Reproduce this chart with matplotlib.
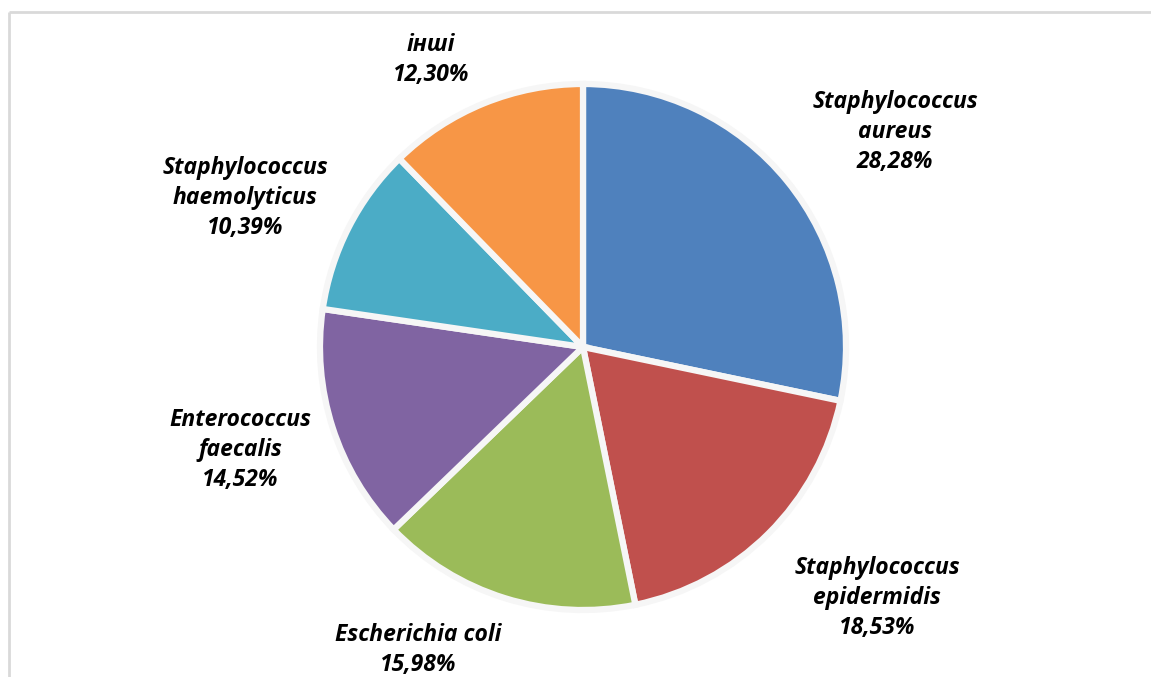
import numpy as np
import matplotlib
matplotlib.use("Agg")
import matplotlib.pyplot as plt

# Data
species = ['Staphylococcus\naureus', 'Staphylococcus\nepidermidis', 'Escherichia coli',
           'Enterococcus\nfaecalis', 'Staphylococcus\nhaemolyticus', 'інші']
shares = [28.28, 18.53, 15.98, 14.52, 10.39, 12.30]
colors = ['#4F81BD', '#C0504D', '#9BBB59', '#8064A2', '#4BACC6', '#F79646']

# label positions in pixels (x from left, y from top)
label_pos = [(895, 132), (877, 598), (418, 650), (240, 450), (245, 198), (431, 60)]

W, H = 1151, 677
fig = plt.figure(figsize=(W / 100, H / 100), dpi=100)
ax = fig.add_axes([0, 0, 1, 1])

# chart area border (top + left visible)
ax.plot([9, W], [H - 12, H - 12], color='#d9d9d9', lw=2, solid_capstyle='butt')
ax.plot([9, 9], [0, H - 12], color='#d9d9d9', lw=2, solid_capstyle='butt')

ax.pie(shares, colors=colors, startangle=90, counterclock=False,
       center=(583, 330), radius=263, explode=[0.015] * len(shares),
       wedgeprops=dict(edgecolor='#f6f6f6', linewidth=4.5), frame=True)
ax.set_xlim(0, W)
ax.set_ylim(0, H)
ax.set_aspect('equal')
ax.axis('off')

for name, val, (x, y) in zip(species, shares, label_pos):
    txt = name + '\n' + f'{val:.2f}'.replace('.', ',') + '%'
    ax.text(x, H - y, txt, ha='center', va='center', fontsize=16.5,
            fontweight='bold', fontstyle='italic', family=['Open Sans', 'DejaVu Sans'],
            linespacing=1.35, color='black')

plt.savefig('out.png', dpi=100)
